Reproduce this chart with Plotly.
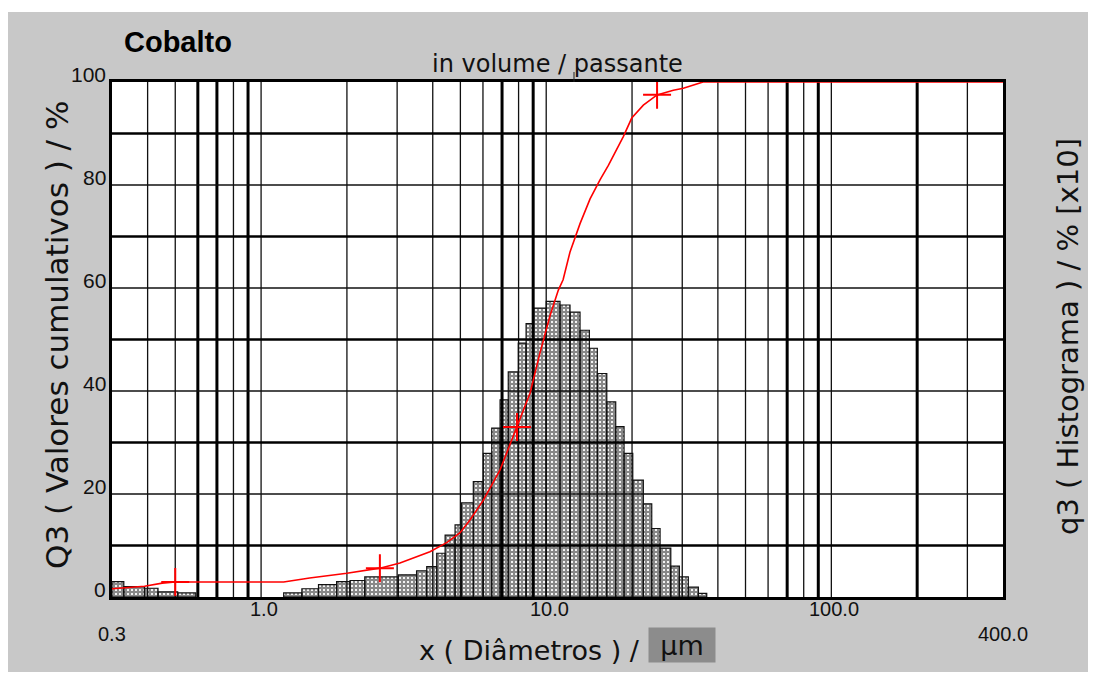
import plotly.graph_objects as go
import numpy as np

# ---------------- data ----------------
# histogram q3 (bin edges in µm, heights on the 0-100 scale)
low_edges = [0.30, 0.33, 0.39, 0.435, 0.51, 0.59]
low_q3 = [3.0, 2.0, 1.7, 1.0, 0.8]

hist_edges = [1.20, 1.39, 1.59, 1.84, 2.05, 2.31, 3.03, 3.51, 3.81, 4.13,
              4.42, 4.79, 5.05, 5.55, 6.02, 6.44, 6.89, 7.36, 7.98, 8.50,
              9.01, 10.0, 11.18, 12.12, 13.14, 14.17, 15.11, 16.31, 17.53, 18.75,
              20.12, 21.91, 23.45, 25.08, 27.35, 29.31, 31.51, 34.17, 36.56]
hist_q3 = [0.8, 1.6, 2.4, 3.0, 3.2, 3.9, 4.3, 5.1, 5.9, 8.5,
           12.0, 14.0, 18.3, 22.4, 27.9, 32.8, 38.3, 43.7, 49.3, 53.1,
           56.1, 57.4, 56.7, 55.3, 51.8, 48.3, 43.4, 37.9, 33.1, 27.9,
           22.7, 18.1, 13.3, 9.5, 6.0, 3.9, 1.9, 0.7]

# cumulative Q3
cum_x = [0.30, 0.39, 0.45, 0.50, 1.20, 1.48, 2.00, 2.61, 3.07, 3.91,
         4.49, 4.99, 5.41, 6.02, 6.89, 7.90, 8.78, 9.51, 10.31, 11.03,
         11.46, 12.12, 13.14, 14.25, 15.44, 16.52, 17.68, 18.64, 19.95, 21.91,
         24.48, 27.92, 30.27, 32.73, 35.49, 400]
cum_Q3 = [1.6, 2.1, 2.7, 2.9, 2.9, 3.7, 4.6, 5.6, 6.6, 8.8,
          10.6, 12.5, 15.0, 18.8, 24.7, 33.0, 39.6, 47.4, 54.6, 59.6,
          61.6, 67.0, 72.5, 77.3, 81.0, 83.8, 86.8, 89.4, 93.0, 95.5,
          97.5, 98.4, 98.8, 99.4, 100, 100]
marker_x = [0.50, 2.61, 7.90, 24.48]
marker_Q3 = [2.9, 5.6, 33.0, 97.5]

# axes / grid
x_min, x_max = 0.3, 400
x_grid = [0.4, 0.5, 0.6, 0.7, 0.8, 0.9, 1, 2, 3, 4, 5, 6, 7, 8, 9,
          10, 20, 30, 40, 50, 60, 70, 80, 90, 100, 200, 300]
x_grid_thick = [0.6, 0.7, 0.9, 7, 9, 70, 90, 200]
y_grid_thin = [20, 40, 60, 80]
y_grid_thick = [10, 30, 50, 70, 90]
x_tick_vals = [1, 10, 100]
x_tick_text = ["1.0", "10.0", "100.0"]
x_end_vals = [0.3, 400]
x_end_text = ["0.3", "400.0"]
y_tick_vals = [0, 20, 40, 60, 80, 100]
y_tick_text = ["0", "20", "40", "60", "80", "100"]

# ---------------- figure ----------------
def bars_polygons(edges, heights):
    xs, ys = [], []
    for i, h in enumerate(heights):
        a, b = edges[i], edges[i + 1]
        xs += [a, a, b, b, a, None]
        ys += [0, h, h, 0, 0, None]
    return xs, ys

bx1, by1 = bars_polygons(low_edges, low_q3)
bx2, by2 = bars_polygons(hist_edges, hist_q3)

fig = go.Figure()
fig.add_trace(go.Scatter(
    x=bx1 + bx2, y=by1 + by2, mode="lines", fill="toself",
    fillcolor="white",
    fillpattern=dict(shape="+", fgcolor="#111111", bgcolor="white", size=4, solidity=0.8),
    line=dict(color="#111111", width=1.2), hoverinfo="skip", showlegend=False))

def vlines(vals):
    xs, ys = [], []
    for v in vals:
        xs += [v, v, None]
        ys += [0, 100, None]
    return xs, ys

def hlines(vals):
    xs, ys = [], []
    for v in vals:
        xs += [x_min, x_max, None]
        ys += [v, v, None]
    return xs, ys

gx, gy = vlines(x_grid)
fig.add_trace(go.Scatter(x=gx, y=gy, mode="lines", line=dict(color="#111", width=1.3),
                         hoverinfo="skip", showlegend=False))
gx, gy = vlines(x_grid_thick)
fig.add_trace(go.Scatter(x=gx, y=gy, mode="lines", line=dict(color="#000", width=3),
                         hoverinfo="skip", showlegend=False))
hx, hy = hlines(y_grid_thin)
fig.add_trace(go.Scatter(x=hx, y=hy, mode="lines", line=dict(color="#111", width=1.5),
                         hoverinfo="skip", showlegend=False))
hx, hy = hlines(y_grid_thick)
fig.add_trace(go.Scatter(x=hx, y=hy, mode="lines", line=dict(color="#000", width=2.5),
                         hoverinfo="skip", showlegend=False))

fig.add_trace(go.Scatter(x=cum_x, y=cum_Q3, mode="lines", line=dict(color="#ff0000", width=1.6),
                         hoverinfo="skip", showlegend=False))
fig.add_trace(go.Scatter(x=marker_x, y=marker_Q3, mode="markers",
                         marker=dict(symbol="cross-thin", size=20, line=dict(color="#ff0000", width=2)),
                         hoverinfo="skip", showlegend=False))

# page body adds an 8px offset; figure coords = screen coords - 8
OFF = 8
W, H = 1096 - 2 * OFF, 684 - 2 * OFF
L, T = 112 - OFF, 82 - OFF
R = W - (1003 - OFF)
B = H - (597 - OFF)
pw, ph = W - L - R, H - T - B

def px(xs):
    return (xs - OFF - L) / pw

def py(ys):
    return (H - B - (ys - OFF)) / ph

shapes = [
    dict(type="rect", xref="paper", yref="paper", x0=px(7), x1=px(1088), y0=py(672), y1=py(12),
         fillcolor="#c8c8c8", line=dict(width=0), layer="below"),
    dict(type="rect", xref="paper", yref="paper", x0=0, x1=1, y0=0, y1=1,
         fillcolor="white", line=dict(width=0), layer="below"),
    dict(type="line", xref="paper", yref="paper", x0=px(574), x1=px(574), y0=1, y1=py(72),
         line=dict(color="#222", width=1)),
]

tf = "Liberation Sans, Arial, sans-serif"
df = "DejaVu Sans, sans-serif"
annotations = [
    dict(text="<b>Cobalto</b>", x=px(122), y=py(42), xref="paper", yref="paper",
         xanchor="left", yanchor="middle", showarrow=False, font=dict(family=tf, size=29, color="#000")),
    dict(text="in volume / passante", x=px(557), y=py(64), xref="paper", yref="paper",
         xanchor="center", yanchor="middle", showarrow=False, font=dict(family=df, size=24, color="#111")),
    dict(text="Q3 ( Valores cumulativos ) / %", x=px(57), y=py(335), xref="paper", yref="paper",
         xanchor="center", yanchor="middle", textangle=-90, showarrow=False,
         font=dict(family=df, size=31, color="#111")),
    dict(text="q3 ( Histograma ) / % [x10]", x=px(1068), y=py(337), xref="paper", yref="paper",
         xanchor="center", yanchor="middle", textangle=-90, showarrow=False,
         font=dict(family=df, size=29, color="#111")),
    dict(text="x ( Diâmetros ) /", x=px(642), y=py(650), xref="paper", yref="paper",
         xanchor="right", yanchor="middle", showarrow=False, font=dict(family=df, size=27, color="#111")),
    dict(text="µm", x=px(648), y=py(645), xref="paper", yref="paper",
         xanchor="left", yanchor="middle", showarrow=False, bgcolor="#8c8c8c",
         width=66, height=34, borderpad=0, font=dict(family=df, size=27, color="#111")),
]
# x tick labels (through the log axis)
for v, t in zip(x_tick_vals, x_tick_text):
    annotations.append(dict(text=t, x=np.log10(v), y=py(609), xref="x", yref="paper",
                            xanchor="center", yanchor="middle", xshift=3, showarrow=False,
                            font=dict(family=tf, size=20, color="#111")))
for v, t in zip(x_end_vals, x_end_text):
    annotations.append(dict(text=t, x=np.log10(v), y=py(634), xref="x", yref="paper",
                            xanchor="center", yanchor="middle", showarrow=False,
                            font=dict(family=tf, size=20, color="#111")))
# y tick labels (through the linear axis)
for v, t in zip(y_tick_vals, y_tick_text):
    annotations.append(dict(text=t, x=px(108), y=v, xref="paper", yref="y",
                            xanchor="right", yanchor="middle", yshift=8, showarrow=False,
                            font=dict(family=tf, size=21, color="#111")))

fig.update_layout(
    width=W, height=H,
    margin=dict(l=L, r=R, t=T, b=B, pad=0),
    paper_bgcolor="white", plot_bgcolor="rgba(0,0,0,0)",
    shapes=shapes, annotations=annotations,
    xaxis=dict(type="log", range=[np.log10(x_min), np.log10(x_max)],
               showgrid=False, zeroline=False, showline=True, linewidth=2.5, linecolor="#000",
               mirror=True, showticklabels=False, ticks=""),
    yaxis=dict(range=[0, 100], showgrid=False, zeroline=False, showline=True, linewidth=2.5,
               linecolor="#000", mirror=True, showticklabels=False, ticks=""),
)

fig.write_html("out.html")
